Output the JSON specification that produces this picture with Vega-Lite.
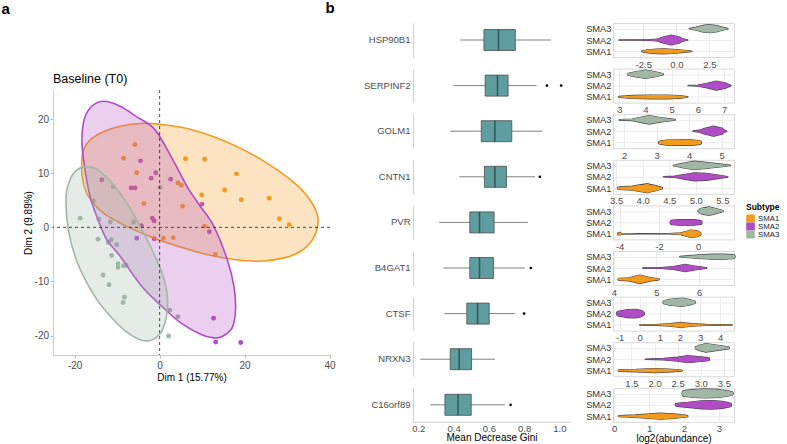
{
"$schema":"https://vega.github.io/schema/vega-lite/v6.json",
"padding":{"left":1,"top":0,"right":0,"bottom":0},
"config":{"font":"Liberation Sans","view":{"stroke":null},
"axis":{"labelFlush":false,"labelOverlap":false,"labelColor":"#4d4d4d","titleColor":"#000000","titleFontWeight":"normal","titleFontSize":10,"labelFontSize":9.5,"domainColor":"#cccccc","tickColor":"#bbbbbb","grid":false},
"axisPoint":{"grid":true,"gridColor":"#ececec","domain":false,"ticks":false,"labelFontSize":9.3,"labelColor":"#333333","labelPadding":2,"title":null},
"axisBand":{"title":null,"ticks":false,"labelFontSize":9.5,"labelColor":"#4d4d4d","labelPadding":3,"domainColor":"#d0d0d0"},
"locale":{"number":{"decimal":".","thousands":",","grouping":[3],"currency":["$",""],"minus":"-"}}},
"datasets":{
"pts":[
{"s":"SMA1","x":-5.8,"y":15.3},{"s":"SMA1","x":-8.5,"y":12.8},{"s":"SMA1","x":-5.4,"y":10.1},{"s":"SMA1","x":6.1,"y":12.7},{"s":"SMA1","x":10.6,"y":12.6},{"s":"SMA1","x":18.1,"y":9.9},{"s":"SMA1","x":15.3,"y":6.9},{"s":"SMA1","x":19.2,"y":5.1},{"s":"SMA1","x":25.8,"y":5.4},{"s":"SMA1","x":28.2,"y":1.6},{"s":"SMA1","x":30.5,"y":0.5},{"s":"SMA1","x":4.3,"y":8.2},{"s":"SMA1","x":5.1,"y":7.8},{"s":"SMA1","x":9.9,"y":6.0},{"s":"SMA1","x":5.4,"y":3.9},{"s":"SMA1","x":-3.7,"y":4.4},{"s":"SMA1","x":10.6,"y":0.2},{"s":"SMA1","x":3.2,"y":-1.9},{"s":"SMA1","x":0.9,"y":-2.0},{"s":"SMA1","x":13.1,"y":-5.0},
{"s":"SMA2","x":-13.6,"y":8.8},{"s":"SMA2","x":-4.5,"y":12.3},{"s":"SMA2","x":-0.9,"y":10.1},{"s":"SMA2","x":-2.0,"y":9.1},{"s":"SMA2","x":2.6,"y":8.9},{"s":"SMA2","x":-6.7,"y":7.3},{"s":"SMA2","x":-5.8,"y":7.3},{"s":"SMA2","x":10.0,"y":4.3},{"s":"SMA2","x":-1.7,"y":1.7},{"s":"SMA2","x":-1.3,"y":1.2},{"s":"SMA2","x":-4.3,"y":0.3},{"s":"SMA2","x":-5.4,"y":-2.0},{"s":"SMA2","x":-1.3,"y":-2.1},{"s":"SMA2","x":11.7,"y":-0.8},{"s":"SMA2","x":12.7,"y":-16.8},{"s":"SMA2","x":13.2,"y":-21.2},{"s":"SMA2","x":19.1,"y":-21.3},
{"s":"SMA3","x":-10.9,"y":7.5},{"s":"SMA3","x":0.1,"y":7.4},{"s":"SMA3","x":-15.6,"y":4.9},{"s":"SMA3","x":-18.7,"y":1.7},{"s":"SMA3","x":-14.3,"y":1.5},{"s":"SMA3","x":-11.6,"y":1.0},{"s":"SMA3","x":-6.1,"y":1.0},{"s":"SMA3","x":-14.5,"y":-2.2},{"s":"SMA3","x":-12.1,"y":-2.8},{"s":"SMA3","x":-11.4,"y":-2.3},{"s":"SMA3","x":-10.1,"y":-3.2},{"s":"SMA3","x":-11.3,"y":-5.2},{"s":"SMA3","x":-9.8,"y":-6.7},{"s":"SMA3","x":-9.8,"y":-7.4},{"s":"SMA3","x":-8.5,"y":-7.1},{"s":"SMA3","x":-7.9,"y":-7.0},{"s":"SMA3","x":-13.3,"y":-8.8},{"s":"SMA3","x":-11.9,"y":-10.6},{"s":"SMA3","x":-8.3,"y":-12.9},{"s":"SMA3","x":-8.6,"y":-13.9},{"s":"SMA3","x":2.4,"y":-15.3},{"s":"SMA3","x":4.3,"y":-16.5},{"s":"SMA3","x":2.1,"y":-20.1}
],
"ell":[
{"s":"SMA1","i":1,"x":-18.35,"y":11.84},{"s":"SMA1","i":2,"x":-17.95,"y":14.29},{"s":"SMA1","i":3,"x":-16.38,"y":16.13},{"s":"SMA1","i":4,"x":-13.23,"y":17.67},{"s":"SMA1","i":5,"x":-9.29,"y":18.71},{"s":"SMA1","i":6,"x":-4.57,"y":19.2},{"s":"SMA1","i":7,"x":0.16,"y":19.08},{"s":"SMA1","i":8,"x":6.46,"y":18.28},{"s":"SMA1","i":9,"x":12.76,"y":16.75},{"s":"SMA1","i":10,"x":19.06,"y":14.6},{"s":"SMA1","i":11,"x":25.35,"y":11.84},{"s":"SMA1","i":12,"x":30.87,"y":8.77},{"s":"SMA1","i":13,"x":34.8,"y":5.71},{"s":"SMA1","i":14,"x":37.01,"y":2.64},{"s":"SMA1","i":15,"x":37.17,"y":0.18},{"s":"SMA1","i":16,"x":35.98,"y":-2.27},{"s":"SMA1","i":17,"x":33.23,"y":-4.42},{"s":"SMA1","i":18,"x":29.29,"y":-5.64},{"s":"SMA1","i":19,"x":23.78,"y":-6.26},{"s":"SMA1","i":20,"x":17.48,"y":-5.95},{"s":"SMA1","i":21,"x":11.18,"y":-5.03},{"s":"SMA1","i":22,"x":4.88,"y":-3.62},{"s":"SMA1","i":23,"x":-1.42,"y":-1.96},{"s":"SMA1","i":24,"x":-7.72,"y":0.18},{"s":"SMA1","i":25,"x":-13.23,"y":2.64},{"s":"SMA1","i":26,"x":-16.77,"y":5.71},{"s":"SMA1","i":27,"x":-18.11,"y":8.77},
{"s":"SMA2","i":1,"x":-13.07,"y":23.31},{"s":"SMA2","i":2,"x":-9.29,"y":22.39},{"s":"SMA2","i":3,"x":-5.35,"y":20.43},{"s":"SMA2","i":4,"x":-1.02,"y":17.98},{"s":"SMA2","i":5,"x":3.31,"y":12.21},{"s":"SMA2","i":6,"x":6.46,"y":7.55},{"s":"SMA2","i":7,"x":9.61,"y":3.87},{"s":"SMA2","i":8,"x":12.76,"y":0.18},{"s":"SMA2","i":9,"x":15.91,"y":-5.95},{"s":"SMA2","i":10,"x":17.48,"y":-10.86},{"s":"SMA2","i":11,"x":17.87,"y":-15.15},{"s":"SMA2","i":12,"x":17.09,"y":-18.53},{"s":"SMA2","i":13,"x":14.72,"y":-20.18},{"s":"SMA2","i":14,"x":12.76,"y":-20.43},{"s":"SMA2","i":15,"x":9.61,"y":-19.75},{"s":"SMA2","i":16,"x":4.88,"y":-17.61},{"s":"SMA2","i":17,"x":0.0,"y":-14.23},{"s":"SMA2","i":18,"x":-4.57,"y":-10.55},{"s":"SMA2","i":19,"x":-9.29,"y":-5.34},{"s":"SMA2","i":20,"x":-12.44,"y":-2.27},{"s":"SMA2","i":21,"x":-14.8,"y":2.02},{"s":"SMA2","i":22,"x":-16.38,"y":5.71},{"s":"SMA2","i":23,"x":-17.56,"y":10.61},{"s":"SMA2","i":24,"x":-18.27,"y":15.52},{"s":"SMA2","i":25,"x":-17.8,"y":19.82},{"s":"SMA2","i":26,"x":-15.98,"y":22.39},
{"s":"SMA3","i":1,"x":-17.01,"y":11.23},{"s":"SMA3","i":2,"x":-14.02,"y":10.31},{"s":"SMA3","i":3,"x":-10.87,"y":7.85},{"s":"SMA3","i":4,"x":-7.72,"y":4.48},{"s":"SMA3","i":5,"x":-4.57,"y":0.18},{"s":"SMA3","i":6,"x":-1.81,"y":-4.11},{"s":"SMA3","i":7,"x":0.55,"y":-8.4},{"s":"SMA3","i":8,"x":1.73,"y":-12.09},{"s":"SMA3","i":9,"x":1.73,"y":-15.77},{"s":"SMA3","i":10,"x":0.55,"y":-19.14},{"s":"SMA3","i":11,"x":-1.42,"y":-20.67},{"s":"SMA3","i":12,"x":-2.99,"y":-20.98},{"s":"SMA3","i":13,"x":-4.96,"y":-20.67},{"s":"SMA3","i":14,"x":-8.11,"y":-19.14},{"s":"SMA3","i":15,"x":-11.65,"y":-16.38},{"s":"SMA3","i":16,"x":-14.8,"y":-13.31},{"s":"SMA3","i":17,"x":-17.56,"y":-9.63},{"s":"SMA3","i":18,"x":-19.92,"y":-5.34},{"s":"SMA3","i":19,"x":-21.5,"y":-0.43},{"s":"SMA3","i":20,"x":-22.05,"y":4.48},{"s":"SMA3","i":21,"x":-21.65,"y":7.55},{"s":"SMA3","i":22,"x":-19.92,"y":10.31}
],
"box":[
{"gene":"HSP90B1","lo":0.438,"q1":0.572,"med":0.655,"q3":0.75,"hi":0.954},
{"gene":"SERPINF2","lo":0.4,"q1":0.579,"med":0.649,"q3":0.709,"hi":0.87},
{"gene":"SERPINF2","out":0.929},{"gene":"SERPINF2","out":1.01},
{"gene":"GOLM1","lo":0.381,"q1":0.557,"med":0.634,"q3":0.73,"hi":0.904},
{"gene":"CNTN1","lo":0.432,"q1":0.575,"med":0.634,"q3":0.7,"hi":0.862},
{"gene":"CNTN1","out":0.889},
{"gene":"PVR","lo":0.319,"q1":0.492,"med":0.547,"q3":0.63,"hi":0.821},
{"gene":"B4GAT1","lo":0.342,"q1":0.492,"med":0.547,"q3":0.626,"hi":0.804},
{"gene":"B4GAT1","out":0.838},
{"gene":"CTSF","lo":0.349,"q1":0.475,"med":0.536,"q3":0.602,"hi":0.747},
{"gene":"CTSF","out":0.8},
{"gene":"NRXN3","lo":0.211,"q1":0.381,"med":0.432,"q3":0.502,"hi":0.634},
{"gene":"C16orf89","lo":0.268,"q1":0.351,"med":0.425,"q3":0.5,"hi":0.691},
{"gene":"C16orf89","out":0.723}
],
"vio":[
{"g":"HSP90B1","s":"SMA3","v":1.0,"w":0.05},{"g":"HSP90B1","s":"SMA3","v":1.5,"w":0.3},{"g":"HSP90B1","s":"SMA3","v":2.0,"w":0.65},{"g":"HSP90B1","s":"SMA3","v":2.5,"w":0.8},{"g":"HSP90B1","s":"SMA3","v":3.0,"w":0.65},{"g":"HSP90B1","s":"SMA3","v":3.5,"w":0.3},{"g":"HSP90B1","s":"SMA3","v":3.9,"w":0.05},
{"g":"HSP90B1","s":"SMA2","v":-4.35,"w":0.02},{"g":"HSP90B1","s":"SMA2","v":-3.0,"w":0.03},{"g":"HSP90B1","s":"SMA2","v":-2.0,"w":0.08},{"g":"HSP90B1","s":"SMA2","v":-1.5,"w":0.2},{"g":"HSP90B1","s":"SMA2","v":-1.0,"w":0.6},{"g":"HSP90B1","s":"SMA2","v":-0.4,"w":1.0},{"g":"HSP90B1","s":"SMA2","v":0.1,"w":0.7},{"g":"HSP90B1","s":"SMA2","v":0.5,"w":0.25},{"g":"HSP90B1","s":"SMA2","v":0.86,"w":0.03},
{"g":"HSP90B1","s":"SMA1","v":-2.62,"w":0.05},{"g":"HSP90B1","s":"SMA1","v":-2.2,"w":0.3},{"g":"HSP90B1","s":"SMA1","v":-1.5,"w":0.45},{"g":"HSP90B1","s":"SMA1","v":-0.9,"w":0.5},{"g":"HSP90B1","s":"SMA1","v":-0.3,"w":0.42},{"g":"HSP90B1","s":"SMA1","v":0.4,"w":0.25},{"g":"HSP90B1","s":"SMA1","v":1.16,"w":0.05},
{"g":"SERPINF2","s":"SMA3","v":3.37,"w":0.25},{"g":"SERPINF2","s":"SMA3","v":3.6,"w":0.5},{"g":"SERPINF2","s":"SMA3","v":4.0,"w":0.85},{"g":"SERPINF2","s":"SMA3","v":4.3,"w":0.6},{"g":"SERPINF2","s":"SMA3","v":4.66,"w":0.15},
{"g":"SERPINF2","s":"SMA2","v":5.63,"w":0.03},{"g":"SERPINF2","s":"SMA2","v":6.0,"w":0.12},{"g":"SERPINF2","s":"SMA2","v":6.35,"w":0.45},{"g":"SERPINF2","s":"SMA2","v":6.7,"w":0.9},{"g":"SERPINF2","s":"SMA2","v":7.0,"w":0.6},{"g":"SERPINF2","s":"SMA2","v":7.25,"w":0.1},
{"g":"SERPINF2","s":"SMA1","v":2.99,"w":0.1},{"g":"SERPINF2","s":"SMA1","v":3.5,"w":0.3},{"g":"SERPINF2","s":"SMA1","v":4.2,"w":0.38},{"g":"SERPINF2","s":"SMA1","v":4.8,"w":0.38},{"g":"SERPINF2","s":"SMA1","v":5.3,"w":0.28},{"g":"SERPINF2","s":"SMA1","v":5.61,"w":0.05},
{"g":"GOLM1","s":"SMA3","v":1.85,"w":0.05},{"g":"GOLM1","s":"SMA3","v":2.25,"w":0.15},{"g":"GOLM1","s":"SMA3","v":2.5,"w":0.5},{"g":"GOLM1","s":"SMA3","v":2.77,"w":0.85},{"g":"GOLM1","s":"SMA3","v":3.1,"w":0.45},{"g":"GOLM1","s":"SMA3","v":3.57,"w":0.08},
{"g":"GOLM1","s":"SMA2","v":4.12,"w":0.05},{"g":"GOLM1","s":"SMA2","v":4.3,"w":0.2},{"g":"GOLM1","s":"SMA2","v":4.5,"w":0.6},{"g":"GOLM1","s":"SMA2","v":4.75,"w":1.0},{"g":"GOLM1","s":"SMA2","v":4.95,"w":0.7},{"g":"GOLM1","s":"SMA2","v":5.15,"w":0.05},
{"g":"GOLM1","s":"SMA1","v":3.1,"w":0.3},{"g":"GOLM1","s":"SMA1","v":3.3,"w":0.5},{"g":"GOLM1","s":"SMA1","v":3.8,"w":0.55},{"g":"GOLM1","s":"SMA1","v":4.1,"w":0.55},{"g":"GOLM1","s":"SMA1","v":4.33,"w":0.35},
{"g":"CNTN1","s":"SMA3","v":4.58,"w":0.05},{"g":"CNTN1","s":"SMA3","v":4.75,"w":0.45},{"g":"CNTN1","s":"SMA3","v":4.97,"w":0.85},{"g":"CNTN1","s":"SMA3","v":5.2,"w":0.6},{"g":"CNTN1","s":"SMA3","v":5.45,"w":0.3},{"g":"CNTN1","s":"SMA3","v":5.65,"w":0.05},
{"g":"CNTN1","s":"SMA2","v":4.39,"w":0.03},{"g":"CNTN1","s":"SMA2","v":4.6,"w":0.12},{"g":"CNTN1","s":"SMA2","v":4.8,"w":0.5},{"g":"CNTN1","s":"SMA2","v":4.97,"w":0.8},{"g":"CNTN1","s":"SMA2","v":5.2,"w":0.7},{"g":"CNTN1","s":"SMA2","v":5.45,"w":0.3},{"g":"CNTN1","s":"SMA2","v":5.6,"w":0.05},
{"g":"CNTN1","s":"SMA1","v":3.55,"w":0.25},{"g":"CNTN1","s":"SMA1","v":3.8,"w":0.4},{"g":"CNTN1","s":"SMA1","v":4.08,"w":0.9},{"g":"CNTN1","s":"SMA1","v":4.25,"w":0.5},{"g":"CNTN1","s":"SMA1","v":4.36,"w":0.15},
{"g":"PVR","s":"SMA3","v":0.0,"w":0.1},{"g":"PVR","s":"SMA3","v":0.2,"w":0.6},{"g":"PVR","s":"SMA3","v":0.55,"w":0.85},{"g":"PVR","s":"SMA3","v":0.9,"w":0.5},{"g":"PVR","s":"SMA3","v":1.25,"w":0.1},
{"g":"PVR","s":"SMA2","v":-1.32,"w":0.45},{"g":"PVR","s":"SMA2","v":-1.0,"w":0.55},{"g":"PVR","s":"SMA2","v":-0.6,"w":0.55},{"g":"PVR","s":"SMA2","v":-0.2,"w":0.55},{"g":"PVR","s":"SMA2","v":0.09,"w":0.4},
{"g":"PVR","s":"SMA1","v":-4.03,"w":0.3},{"g":"PVR","s":"SMA1","v":-3.9,"w":0.08},{"g":"PVR","s":"SMA1","v":-3.0,"w":0.02},{"g":"PVR","s":"SMA1","v":-1.5,"w":0.04},{"g":"PVR","s":"SMA1","v":-0.9,"w":0.2},{"g":"PVR","s":"SMA1","v":-0.6,"w":0.5},{"g":"PVR","s":"SMA1","v":-0.39,"w":0.75},{"g":"PVR","s":"SMA1","v":-0.1,"w":0.65},{"g":"PVR","s":"SMA1","v":0.04,"w":0.4},
{"g":"B4GAT1","s":"SMA3","v":5.55,"w":0.05},{"g":"B4GAT1","s":"SMA3","v":5.9,"w":0.3},{"g":"B4GAT1","s":"SMA3","v":6.3,"w":0.5},{"g":"B4GAT1","s":"SMA3","v":6.6,"w":0.5},{"g":"B4GAT1","s":"SMA3","v":6.8,"w":0.4},
{"g":"B4GAT1","s":"SMA2","v":4.68,"w":0.03},{"g":"B4GAT1","s":"SMA2","v":5.1,"w":0.08},{"g":"B4GAT1","s":"SMA2","v":5.4,"w":0.3},{"g":"B4GAT1","s":"SMA2","v":5.67,"w":0.75},{"g":"B4GAT1","s":"SMA2","v":5.9,"w":0.4},{"g":"B4GAT1","s":"SMA2","v":6.17,"w":0.1},
{"g":"B4GAT1","s":"SMA1","v":4.12,"w":0.2},{"g":"B4GAT1","s":"SMA1","v":4.35,"w":0.3},{"g":"B4GAT1","s":"SMA1","v":4.61,"w":0.85},{"g":"B4GAT1","s":"SMA1","v":4.85,"w":0.35},{"g":"B4GAT1","s":"SMA1","v":5.06,"w":0.1},
{"g":"CTSF","s":"SMA3","v":1.24,"w":0.35},{"g":"CTSF","s":"SMA3","v":1.5,"w":0.6},{"g":"CTSF","s":"SMA3","v":2.11,"w":0.85},{"g":"CTSF","s":"SMA3","v":2.45,"w":0.6},{"g":"CTSF","s":"SMA3","v":2.7,"w":0.3},
{"g":"CTSF","s":"SMA2","v":-1.03,"w":0.5},{"g":"CTSF","s":"SMA2","v":-0.6,"w":0.8},{"g":"CTSF","s":"SMA2","v":-0.2,"w":0.85},{"g":"CTSF","s":"SMA2","v":0.0,"w":0.7},{"g":"CTSF","s":"SMA2","v":0.13,"w":0.4},
{"g":"CTSF","s":"SMA1","v":0.0,"w":0.03},{"g":"CTSF","s":"SMA1","v":0.8,"w":0.08},{"g":"CTSF","s":"SMA1","v":1.5,"w":0.25},{"g":"CTSF","s":"SMA1","v":2.03,"w":0.5},{"g":"CTSF","s":"SMA1","v":2.6,"w":0.25},{"g":"CTSF","s":"SMA1","v":3.3,"w":0.1},{"g":"CTSF","s":"SMA1","v":4.6,"w":0.03},
{"g":"NRXN3","s":"SMA3","v":2.91,"w":0.3},{"g":"NRXN3","s":"SMA3","v":3.0,"w":0.6},{"g":"NRXN3","s":"SMA3","v":3.11,"w":0.85},{"g":"NRXN3","s":"SMA3","v":3.3,"w":0.6},{"g":"NRXN3","s":"SMA3","v":3.6,"w":0.2},
{"g":"NRXN3","s":"SMA2","v":1.8,"w":0.03},{"g":"NRXN3","s":"SMA2","v":2.2,"w":0.15},{"g":"NRXN3","s":"SMA2","v":2.5,"w":0.4},{"g":"NRXN3","s":"SMA2","v":2.71,"w":0.7},{"g":"NRXN3","s":"SMA2","v":3.0,"w":0.45},{"g":"NRXN3","s":"SMA2","v":3.16,"w":0.3},
{"g":"NRXN3","s":"SMA1","v":1.23,"w":0.15},{"g":"NRXN3","s":"SMA1","v":1.6,"w":0.25},{"g":"NRXN3","s":"SMA1","v":1.99,"w":0.4},{"g":"NRXN3","s":"SMA1","v":2.3,"w":0.3},{"g":"NRXN3","s":"SMA1","v":2.59,"w":0.1},
{"g":"C16orf89","s":"SMA3","v":2.03,"w":0.6},{"g":"C16orf89","s":"SMA3","v":2.3,"w":0.8},{"g":"C16orf89","s":"SMA3","v":2.6,"w":0.9},{"g":"C16orf89","s":"SMA3","v":3.0,"w":0.8},{"g":"C16orf89","s":"SMA3","v":3.35,"w":0.4},
{"g":"C16orf89","s":"SMA2","v":1.79,"w":0.3},{"g":"C16orf89","s":"SMA2","v":2.1,"w":0.5},{"g":"C16orf89","s":"SMA2","v":2.5,"w":0.8},{"g":"C16orf89","s":"SMA2","v":2.8,"w":0.85},{"g":"C16orf89","s":"SMA2","v":3.1,"w":0.7},{"g":"C16orf89","s":"SMA2","v":3.3,"w":0.4},
{"g":"C16orf89","s":"SMA1","v":0.14,"w":0.1},{"g":"C16orf89","s":"SMA1","v":0.6,"w":0.25},{"g":"C16orf89","s":"SMA1","v":1.0,"w":0.45},{"g":"C16orf89","s":"SMA1","v":1.33,"w":0.6},{"g":"C16orf89","s":"SMA1","v":1.7,"w":0.45},{"g":"C16orf89","s":"SMA1","v":2.09,"w":0.15}
]},
"spacing":-11,
"hconcat":[
{"title":{"text":"a","anchor":"start","fontSize":15,"fontWeight":"bold","offset":6,"dx":-22},
 "spacing":3,
 "vconcat":[
 {"width":277,"height":47,"data":{"values":[]},"mark":{"type":"point"}},
 {"width":277,"height":265,
  "title":{"text":"Baseline (T0)","anchor":"start","frame":"group","fontSize":12.5,"fontWeight":"normal","offset":4},
  "layer":[
   {"data":{"name":"pts"},"mark":{"type":"point","filled":true,"size":24,"opacity":1},
    "encoding":{
     "x":{"field":"x","type":"quantitative","scale":{"domain":[-25.1,40.1],"nice":false,"zero":false},"axis":{"values":[-20,0,20,40],"title":"Dim 1 (15.77%)","tickSize":3,"labelFontSize":10,"titlePadding":2}},
     "y":{"field":"y","type":"quantitative","scale":{"domain":[-23.6,25.4],"nice":false,"zero":false},"axis":{"values":[-20,-10,0,10,20],"title":"Dim 2 (9.89%)","tickSize":3,"labelFontSize":10,"titlePadding":0.5,"labelPadding":1.5}},
     "color":{"field":"s","type":"nominal","scale":{"domain":["SMA1","SMA2","SMA3"],"range":["#F39A1D","#B04CC5","#A0B7A6"]},
      "legend":{"title":"Subtype","orient":"none","legendX":693,"legendY":180,"symbolType":"square","symbolSize":64,"symbolStrokeColor":"#444444","symbolStrokeWidth":0.6,"titleFontSize":8.5,"labelFontSize":7.8,"labelColor":"#222222","rowPadding":0,"clipHeight":8,"titlePadding":3,"labelOffset":3}}}},
   {"data":{"name":"ell"},"mark":{"type":"line","interpolate":"cardinal-closed","strokeWidth":1.6,"fillOpacity":0.27},
    "encoding":{
     "x":{"field":"x","type":"quantitative"},
     "y":{"field":"y","type":"quantitative"},
     "order":{"field":"i","type":"quantitative"},
     "color":{"field":"s","type":"nominal","legend":null},
     "fill":{"field":"s","type":"nominal","scale":{"domain":["SMA1","SMA2","SMA3"],"range":["#F39A1D","#B04CC5","#A0B7A6"]},"legend":null}}},
   {"data":{"values":[{}]},"mark":{"type":"rule","strokeDash":[3,3],"color":"#222222","strokeWidth":0.8},"encoding":{"x":{"datum":0}}},
   {"data":{"values":[{}]},"mark":{"type":"rule","strokeDash":[3,3],"color":"#222222","strokeWidth":0.8},"encoding":{"y":{"datum":0}}}
  ]}
 ]},
{"title":{"text":"b","anchor":"start","fontSize":15,"fontWeight":"bold","offset":6,"dx":-38},
 "spacing":15,
 "hconcat":[
 {"data":{"name":"box"},"spacing":11.6,"bounds":"flush",
  "vconcat":[
   {"width":157,"height":34,"transform":[{"filter":"datum.gene==='HSP90B1'"}],"encoding":{"y":{"field":"gene","type":"nominal"}},
    "layer":[
     {"mark":{"type":"rule","color":"#808080","strokeWidth":1},"encoding":{"x":{"field":"lo","type":"quantitative","scale":{"domain":[0.17,1.06],"nice":false,"zero":false},"axis":null},"x2":{"field":"hi"}}},
     {"mark":{"type":"bar","size":21,"fill":"#5F9EA0","stroke":"#4d4d4d","strokeWidth":0.8},"encoding":{"x":{"field":"q1","type":"quantitative","axis":null},"x2":{"field":"q3"}}},
     {"mark":{"type":"tick","size":21,"thickness":1.6,"color":"#2a3a3a"},"encoding":{"x":{"field":"med","type":"quantitative","axis":null}}}]},
   {"width":157,"height":34,"transform":[{"filter":"datum.gene==='SERPINF2'"}],"encoding":{"y":{"field":"gene","type":"nominal"}},
    "layer":[
     {"mark":{"type":"rule","color":"#808080","strokeWidth":1},"encoding":{"x":{"field":"lo","type":"quantitative","scale":{"domain":[0.17,1.06],"nice":false,"zero":false},"axis":null},"x2":{"field":"hi"}}},
     {"mark":{"type":"bar","size":21,"fill":"#5F9EA0","stroke":"#4d4d4d","strokeWidth":0.8},"encoding":{"x":{"field":"q1","type":"quantitative","axis":null},"x2":{"field":"q3"}}},
     {"mark":{"type":"tick","size":21,"thickness":1.6,"color":"#2a3a3a"},"encoding":{"x":{"field":"med","type":"quantitative","axis":null}}},
     {"mark":{"type":"point","filled":true,"size":7,"color":"#000000","opacity":1},"encoding":{"x":{"field":"out","type":"quantitative","axis":null}}}]},
   {"width":157,"height":34,"transform":[{"filter":"datum.gene==='GOLM1'"}],"encoding":{"y":{"field":"gene","type":"nominal"}},
    "layer":[
     {"mark":{"type":"rule","color":"#808080","strokeWidth":1},"encoding":{"x":{"field":"lo","type":"quantitative","scale":{"domain":[0.17,1.06],"nice":false,"zero":false},"axis":null},"x2":{"field":"hi"}}},
     {"mark":{"type":"bar","size":21,"fill":"#5F9EA0","stroke":"#4d4d4d","strokeWidth":0.8},"encoding":{"x":{"field":"q1","type":"quantitative","axis":null},"x2":{"field":"q3"}}},
     {"mark":{"type":"tick","size":21,"thickness":1.6,"color":"#2a3a3a"},"encoding":{"x":{"field":"med","type":"quantitative","axis":null}}}]},
   {"width":157,"height":34,"transform":[{"filter":"datum.gene==='CNTN1'"}],"encoding":{"y":{"field":"gene","type":"nominal"}},
    "layer":[
     {"mark":{"type":"rule","color":"#808080","strokeWidth":1},"encoding":{"x":{"field":"lo","type":"quantitative","scale":{"domain":[0.17,1.06],"nice":false,"zero":false},"axis":null},"x2":{"field":"hi"}}},
     {"mark":{"type":"bar","size":21,"fill":"#5F9EA0","stroke":"#4d4d4d","strokeWidth":0.8},"encoding":{"x":{"field":"q1","type":"quantitative","axis":null},"x2":{"field":"q3"}}},
     {"mark":{"type":"tick","size":21,"thickness":1.6,"color":"#2a3a3a"},"encoding":{"x":{"field":"med","type":"quantitative","axis":null}}},
     {"mark":{"type":"point","filled":true,"size":7,"color":"#000000","opacity":1},"encoding":{"x":{"field":"out","type":"quantitative","axis":null}}}]},
   {"width":157,"height":34,"transform":[{"filter":"datum.gene==='PVR'"}],"encoding":{"y":{"field":"gene","type":"nominal"}},
    "layer":[
     {"mark":{"type":"rule","color":"#808080","strokeWidth":1},"encoding":{"x":{"field":"lo","type":"quantitative","scale":{"domain":[0.17,1.06],"nice":false,"zero":false},"axis":null},"x2":{"field":"hi"}}},
     {"mark":{"type":"bar","size":21,"fill":"#5F9EA0","stroke":"#4d4d4d","strokeWidth":0.8},"encoding":{"x":{"field":"q1","type":"quantitative","axis":null},"x2":{"field":"q3"}}},
     {"mark":{"type":"tick","size":21,"thickness":1.6,"color":"#2a3a3a"},"encoding":{"x":{"field":"med","type":"quantitative","axis":null}}}]},
   {"width":157,"height":34,"transform":[{"filter":"datum.gene==='B4GAT1'"}],"encoding":{"y":{"field":"gene","type":"nominal"}},
    "layer":[
     {"mark":{"type":"rule","color":"#808080","strokeWidth":1},"encoding":{"x":{"field":"lo","type":"quantitative","scale":{"domain":[0.17,1.06],"nice":false,"zero":false},"axis":null},"x2":{"field":"hi"}}},
     {"mark":{"type":"bar","size":21,"fill":"#5F9EA0","stroke":"#4d4d4d","strokeWidth":0.8},"encoding":{"x":{"field":"q1","type":"quantitative","axis":null},"x2":{"field":"q3"}}},
     {"mark":{"type":"tick","size":21,"thickness":1.6,"color":"#2a3a3a"},"encoding":{"x":{"field":"med","type":"quantitative","axis":null}}},
     {"mark":{"type":"point","filled":true,"size":7,"color":"#000000","opacity":1},"encoding":{"x":{"field":"out","type":"quantitative","axis":null}}}]},
   {"width":157,"height":34,"transform":[{"filter":"datum.gene==='CTSF'"}],"encoding":{"y":{"field":"gene","type":"nominal"}},
    "layer":[
     {"mark":{"type":"rule","color":"#808080","strokeWidth":1},"encoding":{"x":{"field":"lo","type":"quantitative","scale":{"domain":[0.17,1.06],"nice":false,"zero":false},"axis":null},"x2":{"field":"hi"}}},
     {"mark":{"type":"bar","size":21,"fill":"#5F9EA0","stroke":"#4d4d4d","strokeWidth":0.8},"encoding":{"x":{"field":"q1","type":"quantitative","axis":null},"x2":{"field":"q3"}}},
     {"mark":{"type":"tick","size":21,"thickness":1.6,"color":"#2a3a3a"},"encoding":{"x":{"field":"med","type":"quantitative","axis":null}}},
     {"mark":{"type":"point","filled":true,"size":7,"color":"#000000","opacity":1},"encoding":{"x":{"field":"out","type":"quantitative","axis":null}}}]},
   {"width":157,"height":34,"transform":[{"filter":"datum.gene==='NRXN3'"}],"encoding":{"y":{"field":"gene","type":"nominal"}},
    "layer":[
     {"mark":{"type":"rule","color":"#808080","strokeWidth":1},"encoding":{"x":{"field":"lo","type":"quantitative","scale":{"domain":[0.17,1.06],"nice":false,"zero":false},"axis":null},"x2":{"field":"hi"}}},
     {"mark":{"type":"bar","size":21,"fill":"#5F9EA0","stroke":"#4d4d4d","strokeWidth":0.8},"encoding":{"x":{"field":"q1","type":"quantitative","axis":null},"x2":{"field":"q3"}}},
     {"mark":{"type":"tick","size":21,"thickness":1.6,"color":"#2a3a3a"},"encoding":{"x":{"field":"med","type":"quantitative","axis":null}}}]},
   {"width":157,"height":34,"transform":[{"filter":"datum.gene==='C16orf89'"}],"encoding":{"y":{"field":"gene","type":"nominal"}},
    "layer":[
     {"mark":{"type":"rule","color":"#808080","strokeWidth":1},"encoding":{"x":{"field":"lo","type":"quantitative","scale":{"domain":[0.17,1.06],"nice":false,"zero":false},"axis":{"title":"Mean Decrease Gini","values":[0.2,0.4,0.6,0.8,1.0],"format":".1f","labelOverlap":false,"ticks":false,"labelPadding":1.5,"titlePadding":0,"domainColor":"#d0d0d0"}},"x2":{"field":"hi"}}},
     {"mark":{"type":"bar","size":21,"fill":"#5F9EA0","stroke":"#4d4d4d","strokeWidth":0.8},"encoding":{"x":{"field":"q1","type":"quantitative","axis":{"title":"Mean Decrease Gini","values":[0.2,0.4,0.6,0.8,1.0],"format":".1f","labelOverlap":false,"ticks":false,"labelPadding":1.5,"titlePadding":0,"domainColor":"#d0d0d0"}},"x2":{"field":"q3"}}},
     {"mark":{"type":"tick","size":21,"thickness":1.6,"color":"#2a3a3a"},"encoding":{"x":{"field":"med","type":"quantitative","axis":{"title":"Mean Decrease Gini","values":[0.2,0.4,0.6,0.8,1.0],"format":".1f","labelOverlap":false,"ticks":false,"labelPadding":1.5,"titlePadding":0,"domainColor":"#d0d0d0"}}}},
     {"mark":{"type":"point","filled":true,"size":7,"color":"#000000","opacity":1},"encoding":{"x":{"field":"out","type":"quantitative","axis":{"title":"Mean Decrease Gini","values":[0.2,0.4,0.6,0.8,1.0],"format":".1f","labelOverlap":false,"ticks":false,"labelPadding":1.5,"titlePadding":0,"domainColor":"#d0d0d0"}}}}]}
  ]},
 {"vconcat":[
  {"width":121,"height":34,"view":{"stroke":"#d9d9d9"},"data":{"name":"vio"},"transform":[{"filter":"datum.g==='HSP90B1'"}],
   "encoding":{"x":{"field":"v","type":"quantitative","scale":{"domain":[-4.8,4.37],"nice":false,"zero":false},"axis":{"values":[-2.5,0,2.5],"format":".1f","title":null,"grid":true,"gridColor":"#ececec","domain":false,"ticks":false,"labelPadding":2}},
    "y":{"field":"s","type":"nominal","sort":["SMA3","SMA2","SMA1"]},"order":{"field":"v","type":"quantitative"},"detail":{"field":"s"},
    "size":{"field":"w","type":"quantitative","scale":{"domain":[0,1],"range":[0,10]},"legend":null}},
   "layer":[{"mark":{"type":"trail","color":"#4a4a4a","stroke":"#4a4a4a","strokeWidth":1.2}},{"mark":{"type":"trail"},"encoding":{"color":{"field":"s","type":"nominal","legend":null}}}]},
  {"width":121,"height":34,"view":{"stroke":"#d9d9d9"},"data":{"name":"vio"},"transform":[{"filter":"datum.g==='SERPINF2'"}],
   "encoding":{"x":{"field":"v","type":"quantitative","scale":{"domain":[2.76,7.38],"nice":false,"zero":false},"axis":{"values":[3,4,5,6,7],"format":"d","title":null,"grid":true,"gridColor":"#ececec","domain":false,"ticks":false,"labelPadding":2}},
    "y":{"field":"s","type":"nominal","sort":["SMA3","SMA2","SMA1"]},"order":{"field":"v","type":"quantitative"},"detail":{"field":"s"},
    "size":{"field":"w","type":"quantitative","scale":{"domain":[0,1],"range":[0,10]},"legend":null}},
   "layer":[{"mark":{"type":"trail","color":"#4a4a4a","stroke":"#4a4a4a","strokeWidth":1.2}},{"mark":{"type":"trail"},"encoding":{"color":{"field":"s","type":"nominal","legend":null}}}]},
  {"width":121,"height":34,"view":{"stroke":"#d9d9d9"},"data":{"name":"vio"},"transform":[{"filter":"datum.g==='GOLM1'"}],
   "encoding":{"x":{"field":"v","type":"quantitative","scale":{"domain":[1.66,5.38],"nice":false,"zero":false},"axis":{"values":[2,3,4,5],"format":"d","title":null,"grid":true,"gridColor":"#ececec","domain":false,"ticks":false,"labelPadding":2}},
    "y":{"field":"s","type":"nominal","sort":["SMA3","SMA2","SMA1"]},"order":{"field":"v","type":"quantitative"},"detail":{"field":"s"},
    "size":{"field":"w","type":"quantitative","scale":{"domain":[0,1],"range":[0,10]},"legend":null}},
   "layer":[{"mark":{"type":"trail","color":"#4a4a4a","stroke":"#4a4a4a","strokeWidth":1.2}},{"mark":{"type":"trail"},"encoding":{"color":{"field":"s","type":"nominal","legend":null}}}]},
  {"width":121,"height":34,"view":{"stroke":"#d9d9d9"},"data":{"name":"vio"},"transform":[{"filter":"datum.g==='CNTN1'"}],
   "encoding":{"x":{"field":"v","type":"quantitative","scale":{"domain":[3.44,5.72],"nice":false,"zero":false},"axis":{"values":[3.5,4,4.5,5,5.5],"format":".1f","title":null,"grid":true,"gridColor":"#ececec","domain":false,"ticks":false,"labelPadding":2}},
    "y":{"field":"s","type":"nominal","sort":["SMA3","SMA2","SMA1"]},"order":{"field":"v","type":"quantitative"},"detail":{"field":"s"},
    "size":{"field":"w","type":"quantitative","scale":{"domain":[0,1],"range":[0,10]},"legend":null}},
   "layer":[{"mark":{"type":"trail","color":"#4a4a4a","stroke":"#4a4a4a","strokeWidth":1.2}},{"mark":{"type":"trail"},"encoding":{"color":{"field":"s","type":"nominal","legend":null}}}]},
  {"width":121,"height":34,"view":{"stroke":"#d9d9d9"},"data":{"name":"vio"},"transform":[{"filter":"datum.g==='PVR'"}],
   "encoding":{"x":{"field":"v","type":"quantitative","scale":{"domain":[-4.34,1.82],"nice":false,"zero":false},"axis":{"values":[-4,-2,0],"format":"d","title":null,"grid":true,"gridColor":"#ececec","domain":false,"ticks":false,"labelPadding":2}},
    "y":{"field":"s","type":"nominal","sort":["SMA3","SMA2","SMA1"]},"order":{"field":"v","type":"quantitative"},"detail":{"field":"s"},
    "size":{"field":"w","type":"quantitative","scale":{"domain":[0,1],"range":[0,10]},"legend":null}},
   "layer":[{"mark":{"type":"trail","color":"#4a4a4a","stroke":"#4a4a4a","strokeWidth":1.2}},{"mark":{"type":"trail"},"encoding":{"color":{"field":"s","type":"nominal","legend":null}}}]},
  {"width":121,"height":34,"view":{"stroke":"#d9d9d9"},"data":{"name":"vio"},"transform":[{"filter":"datum.g==='B4GAT1'"}],
   "encoding":{"x":{"field":"v","type":"quantitative","scale":{"domain":[3.98,6.82],"nice":false,"zero":false},"axis":{"values":[4,5,6],"format":"d","title":null,"grid":true,"gridColor":"#ececec","domain":false,"ticks":false,"labelPadding":2}},
    "y":{"field":"s","type":"nominal","sort":["SMA3","SMA2","SMA1"]},"order":{"field":"v","type":"quantitative"},"detail":{"field":"s"},
    "size":{"field":"w","type":"quantitative","scale":{"domain":[0,1],"range":[0,10]},"legend":null}},
   "layer":[{"mark":{"type":"trail","color":"#4a4a4a","stroke":"#4a4a4a","strokeWidth":1.2}},{"mark":{"type":"trail"},"encoding":{"color":{"field":"s","type":"nominal","legend":null}}}]},
  {"width":121,"height":34,"view":{"stroke":"#d9d9d9"},"data":{"name":"vio"},"transform":[{"filter":"datum.g==='CTSF'"}],
   "encoding":{"x":{"field":"v","type":"quantitative","scale":{"domain":[-1.33,4.69],"nice":false,"zero":false},"axis":{"values":[-1,0,1,2,3,4],"format":"d","title":null,"grid":true,"gridColor":"#ececec","domain":false,"ticks":false,"labelPadding":2}},
    "y":{"field":"s","type":"nominal","sort":["SMA3","SMA2","SMA1"]},"order":{"field":"v","type":"quantitative"},"detail":{"field":"s"},
    "size":{"field":"w","type":"quantitative","scale":{"domain":[0,1],"range":[0,10]},"legend":null}},
   "layer":[{"mark":{"type":"trail","color":"#4a4a4a","stroke":"#4a4a4a","strokeWidth":1.2}},{"mark":{"type":"trail"},"encoding":{"color":{"field":"s","type":"nominal","legend":null}}}]},
  {"width":121,"height":34,"view":{"stroke":"#d9d9d9"},"data":{"name":"vio"},"transform":[{"filter":"datum.g==='NRXN3'"}],
   "encoding":{"x":{"field":"v","type":"quantitative","scale":{"domain":[1.1,3.72],"nice":false,"zero":false},"axis":{"values":[1.5,2,2.5,3,3.5],"format":".1f","title":null,"grid":true,"gridColor":"#ececec","domain":false,"ticks":false,"labelPadding":2}},
    "y":{"field":"s","type":"nominal","sort":["SMA3","SMA2","SMA1"]},"order":{"field":"v","type":"quantitative"},"detail":{"field":"s"},
    "size":{"field":"w","type":"quantitative","scale":{"domain":[0,1],"range":[0,10]},"legend":null}},
   "layer":[{"mark":{"type":"trail","color":"#4a4a4a","stroke":"#4a4a4a","strokeWidth":1.2}},{"mark":{"type":"trail"},"encoding":{"color":{"field":"s","type":"nominal","legend":null}}}]},
  {"width":121,"height":34,"view":{"stroke":"#d9d9d9"},"data":{"name":"vio"},"transform":[{"filter":"datum.g==='C16orf89'"}],
   "encoding":{"x":{"field":"v","type":"quantitative","scale":{"domain":[-0.03,3.43],"nice":false,"zero":false},"axis":{"values":[0,1,2,3],"format":"d","title":"log2(abundance)","grid":true,"gridColor":"#ececec","domain":false,"ticks":false,"labelPadding":1.5,"titlePadding":1}},
    "y":{"field":"s","type":"nominal","sort":["SMA3","SMA2","SMA1"]},"order":{"field":"v","type":"quantitative"},"detail":{"field":"s"},
    "size":{"field":"w","type":"quantitative","scale":{"domain":[0,1],"range":[0,10]},"legend":null}},
   "layer":[{"mark":{"type":"trail","color":"#4a4a4a","stroke":"#4a4a4a","strokeWidth":1.2}},{"mark":{"type":"trail"},"encoding":{"color":{"field":"s","type":"nominal","legend":null}}}]}
 ],"spacing":11.6,"bounds":"flush"}
 ]}
]}
